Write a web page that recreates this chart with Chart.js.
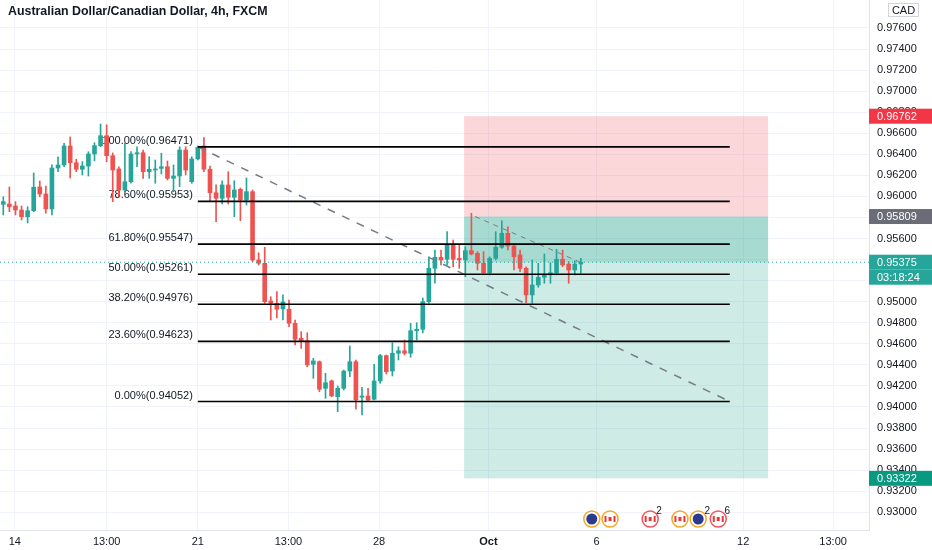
<!DOCTYPE html>
<html>
<head>
<meta charset="utf-8">
<title>AUDCAD 4h</title>
<script src="https://cdn.jsdelivr.net/npm/chart.js@4.4.0/dist/chart.umd.min.js"></script>
<style>
  html, body { margin: 0; padding: 0; background: #ffffff; }
  #wrap { width: 932px; height: 550px; position: relative; }
</style>
</head>
<body>
<div id="wrap"><canvas id="chart"></canvas></div>
<script>
// 4h candles, oldest first (index = bar number)
const opens = [
  0.95925, 0.95928, 0.95909, 0.95871, 0.95807, 0.95864, 0.96090, 0.96023, 0.95881, 0.96270,
  0.96299, 0.96479, 0.96320, 0.96258, 0.96289, 0.96403, 0.96482, 0.96577, 0.96387, 0.96261,
  0.96061, 0.96140, 0.96403, 0.96415, 0.96235, 0.96251, 0.96266, 0.96282, 0.96172, 0.96194,
  0.96441, 0.96140, 0.96356, 0.96479, 0.96258, 0.96035, 0.95982, 0.96109, 0.95992, 0.96068,
  0.95966, 0.96045, 0.95396, 0.95365, 0.95007, 0.94985, 0.94931, 0.94928, 0.94795, 0.94652,
  0.94629, 0.94405, 0.94430, 0.94177, 0.94247, 0.94097, 0.94177, 0.94341, 0.94430, 0.94092,
  0.94104, 0.94073, 0.94247, 0.94487, 0.94341, 0.94510, 0.94534, 0.94510, 0.94724, 0.94738,
  0.95000, 0.95317, 0.95422, 0.95403, 0.95538, 0.95412, 0.95396, 0.95485, 0.95459, 0.95365,
  0.95275, 0.95412, 0.95517, 0.95650, 0.95529, 0.95444, 0.95317, 0.95064, 0.95159, 0.95232,
  0.95254, 0.95275, 0.95403, 0.95358, 0.95301, 0.95358
];
const highs = [
  0.95997, 0.96090, 0.95950, 0.95909, 0.95902, 0.96223, 0.96147, 0.96099, 0.96299, 0.96377,
  0.96505, 0.96565, 0.96353, 0.96330, 0.96425, 0.96510, 0.96688, 0.96681, 0.96413, 0.96282,
  0.96505, 0.96425, 0.96472, 0.96441, 0.96377, 0.96346, 0.96410, 0.96337, 0.96299, 0.96472,
  0.96472, 0.96377, 0.96479, 0.96558, 0.96289, 0.96109, 0.96149, 0.96235, 0.96149, 0.96080,
  0.96175, 0.96061, 0.95465, 0.95517, 0.95047, 0.95095, 0.95064, 0.95016, 0.94826, 0.94715,
  0.94705, 0.94462, 0.94437, 0.94320, 0.94256, 0.94199, 0.94351, 0.94579, 0.94446, 0.94187,
  0.94177, 0.94405, 0.94500, 0.94494, 0.94610, 0.94572, 0.94636, 0.94795, 0.94800, 0.95035,
  0.95427, 0.95491, 0.95491, 0.95665, 0.95586, 0.95538, 0.95522, 0.95840, 0.95475, 0.95475,
  0.95427, 0.95665, 0.95769, 0.95712, 0.95555, 0.95491, 0.95332, 0.95396, 0.95365, 0.95453,
  0.95370, 0.95498, 0.95491, 0.95380, 0.95389, 0.95412
];
const lows = [
  0.95824, 0.95855, 0.95824, 0.95776, 0.95748, 0.95855, 0.95997, 0.95840, 0.95824, 0.96235,
  0.96282, 0.96175, 0.96235, 0.96204, 0.96194, 0.96339, 0.96472, 0.96330, 0.95950, 0.95997,
  0.96045, 0.96125, 0.96282, 0.96172, 0.96172, 0.96125, 0.96213, 0.96156, 0.96045, 0.96092,
  0.96204, 0.96125, 0.96346, 0.96235, 0.95950, 0.95760, 0.95928, 0.95928, 0.95807, 0.95769,
  0.95919, 0.95380, 0.95348, 0.94985, 0.94826, 0.94845, 0.94826, 0.94762, 0.94589, 0.94557,
  0.94382, 0.94272, 0.94145, 0.94082, 0.94097, 0.93955, 0.94161, 0.94287, 0.93978, 0.93924,
  0.94050, 0.94066, 0.94225, 0.94313, 0.94294, 0.94446, 0.94494, 0.94472, 0.94636, 0.94703,
  0.94985, 0.95175, 0.95349, 0.95349, 0.95332, 0.95317, 0.95237, 0.95444, 0.95301, 0.95270,
  0.95254, 0.95396, 0.95507, 0.95491, 0.95301, 0.95285, 0.94991, 0.94985, 0.95137, 0.95175,
  0.95175, 0.95254, 0.95332, 0.95175, 0.95254, 0.95270
];
const closes = [
  0.95950, 0.95902, 0.95871, 0.95807, 0.95864, 0.96087, 0.96023, 0.95881, 0.96270, 0.96299,
  0.96479, 0.96320, 0.96258, 0.96289, 0.96403, 0.96482, 0.96577, 0.96387, 0.96251, 0.96061,
  0.96140, 0.96403, 0.96415, 0.96235, 0.96258, 0.96261, 0.96282, 0.96172, 0.96194, 0.96441,
  0.96251, 0.96356, 0.96466, 0.96258, 0.96035, 0.95982, 0.96109, 0.95992, 0.96061, 0.95966,
  0.96045, 0.95396, 0.95365, 0.95000, 0.94985, 0.94928, 0.94997, 0.94795, 0.94643, 0.94620,
  0.94399, 0.94437, 0.94168, 0.94230, 0.94104, 0.94177, 0.94341, 0.94430, 0.94066, 0.94104,
  0.94066, 0.94247, 0.94487, 0.94335, 0.94510, 0.94534, 0.94510, 0.94724, 0.94738, 0.95000,
  0.95317, 0.95422, 0.95396, 0.95538, 0.95403, 0.95396, 0.95485, 0.95453, 0.95365, 0.95275,
  0.95412, 0.95517, 0.95650, 0.95529, 0.95427, 0.95317, 0.95064, 0.95159, 0.95232, 0.95254,
  0.95275, 0.95403, 0.95349, 0.95301, 0.95358, 0.95375
];

// time axis (bar numbers) and its labels
const tickPos = [1.9, 17.0, 32.0, 46.9, 61.8, 79.8, 97.6, 121.7, 136.5];
const tickLabels = ['14', '13:00', '21', '13:00', '28', 'Oct', '6', '12', '13:00'];

// fib retracement
const fibRatios = ['100.00%', '78.60%', '61.80%', '50.00%', '38.20%', '23.60%', '0.00%'];
const fibPrices = [0.96471, 0.95953, 0.95547, 0.95261, 0.94976, 0.94623, 0.94052];
const fibFrom = 32.0, fibTo = 119.5;

// long position tool
const posFrom = 75.8, posTo = 125.8;
const stopPrice = 0.96762, entryPrice = 0.95809, targetPrice = 0.93322;
const lastPrice = 0.95375;
const entryLine = [{ x: 77.6, y: entryPrice }, { x: 94.9, y: lastPrice }];

// economic calendar markers (bar number)
const eventBars = [96.8, 99.8, 106.4, 111.3, 114.3, 117.6];
const eventKind = ['AU', 'CA', 'CA', 'CA', 'AU', 'CA'];
const eventCount = ['', '', '2', '', '2', '6'];

const xMin = -0.543, xMax = 142.4;
const yMin = 0.92831, yMax = 0.97866;

const UP = '#26a69a', DOWN = '#ef5350';
const FONT = '"Liberation Sans", Arial, sans-serif';

const candleColor = ctx => closes[ctx.dataIndex] >= opens[ctx.dataIndex] ? UP : DOWN;

const fibSets = fibPrices.map(p => ({
  type: 'line',
  data: [{ x: fibFrom, y: p }, { x: fibTo, y: p }],
  borderColor: '#000000',
  borderWidth: 1.6,
  pointRadius: 0,
  order: 0
}));

const tvDecor = {
  id: 'tvDecor',
  beforeDatasetsDraw(chart) {
    const { ctx, scales: { x, y } } = chart;
    const l = x.getPixelForValue(posFrom), r = x.getPixelForValue(posTo);
    const yStop = y.getPixelForValue(stopPrice), yEntry = y.getPixelForValue(entryPrice);
    const yTarget = y.getPixelForValue(targetPrice), yLast = y.getPixelForValue(lastPrice);
    ctx.save();
    ctx.fillStyle = 'rgba(242, 54, 69, 0.2)';
    ctx.fillRect(l, yStop, r - l, yEntry - yStop);
    ctx.fillStyle = 'rgba(8, 153, 129, 0.2)';
    ctx.fillRect(l, yEntry, r - l, yTarget - yEntry);
    ctx.fillRect(l, yEntry, r - l, yLast - yEntry);

    // fib labels (sit under the candles)
    ctx.font = '11px ' + FONT;
    ctx.fillStyle = '#131722';
    ctx.textAlign = 'right';
    ctx.textBaseline = 'bottom';
    const lx = x.getPixelForValue(fibFrom) - 5;
    fibPrices.forEach((p, i) => {
      ctx.fillText(fibRatios[i] + '(' + p.toFixed(5) + ')', lx, y.getPixelForValue(p) - 0.5);
    });
    ctx.restore();
  },
  afterDraw(chart) {
    const { ctx, chartArea, scales: { x, y } } = chart;
    ctx.save();
    // title
    ctx.font = '600 12.4px ' + FONT;
    ctx.fillStyle = '#131722';
    ctx.textAlign = 'left';
    ctx.textBaseline = 'middle';
    ctx.fillText('Australian Dollar/Canadian Dollar, 4h, FXCM', 8, 12);

    // price tags on the scale
    const tags = [
      { p: stopPrice, t: stopPrice.toFixed(5), c: '#f23645', dy: 0 },
      { p: entryPrice, t: entryPrice.toFixed(5), c: '#6a6d78', dy: 0 },
      { p: lastPrice, t: lastPrice.toFixed(5), c: '#26a69a', dy: 0 },
      { p: lastPrice, t: '03:18:24', c: '#26a69a', dy: 15 },
      { p: targetPrice, t: targetPrice.toFixed(5), c: '#089981', dy: 0 }
    ];
    ctx.font = '11px ' + FONT;
    tags.forEach(g => {
      const py = y.getPixelForValue(g.p) + g.dy;
      ctx.fillStyle = g.c;
      ctx.fillRect(chartArea.right, py - 7.5, 63, 15);
      ctx.fillStyle = '#ffffff';
      ctx.fillText(g.t, chartArea.right + 8, py + 0.5);
    });

    // currency box
    ctx.fillStyle = '#ffffff';
    ctx.strokeStyle = '#d1d4dc';
    ctx.lineWidth = 1;
    ctx.fillRect(888.5, 3.5, 30, 13);
    ctx.strokeRect(888.5, 3.5, 30, 13);
    ctx.fillStyle = '#131722';
    ctx.textAlign = 'center';
    ctx.fillText('CAD', 903.5, 10.5);

    // calendar markers
    eventBars.forEach((b, i) => {
      const cx = x.getPixelForValue(b), cy = 519;
      const au = eventKind[i] === 'AU';
      ctx.beginPath();
      ctx.arc(cx, cy, 8, 0, Math.PI * 2);
      ctx.fillStyle = '#ffffff';
      ctx.fill();
      ctx.lineWidth = 1.5;
      ctx.strokeStyle = (i === 2 || i === 5) ? '#f7525f' : '#f6a623';
      ctx.stroke();
      ctx.beginPath();
      ctx.arc(cx, cy, 5.5, 0, Math.PI * 2);
      ctx.fillStyle = au ? '#2b3a8f' : '#ffffff';
      ctx.fill();
      if (!au) {
        ctx.fillStyle = '#e53935';
        ctx.fillRect(cx - 5.5, cy - 3, 2, 6);
        ctx.fillRect(cx + 3.5, cy - 3, 2, 6);
        ctx.fillRect(cx - 1.5, cy - 2, 3, 4);
      }
      if (eventCount[i]) {
        ctx.font = '10px ' + FONT;
        ctx.fillStyle = '#131722';
        ctx.textAlign = 'center';
        ctx.fillText(eventCount[i], cx + 9, cy - 8);
      }
    });
    ctx.restore();
  }
};

new Chart(document.getElementById('chart'), {
  type: 'bar',
  data: {
    datasets: [
      ...fibSets,
      {
        type: 'line',
        data: [{ x: fibFrom, y: fibPrices[0] }, { x: fibTo, y: fibPrices[6] }],
        borderColor: '#787b86',
        borderWidth: 1.5,
        borderDash: [8, 8],
        pointRadius: 0,
        order: 0
      },
      {
        type: 'line',
        data: entryLine,
        borderColor: '#787b86',
        borderWidth: 1,
        borderDash: [5, 5],
        pointRadius: 0,
        order: 0
      },
      {
        type: 'line',
        data: [{ x: xMin, y: lastPrice }, { x: xMax, y: lastPrice }],
        borderColor: '#26a69a',
        borderWidth: 1,
        borderDash: [1, 3],
        pointRadius: 0,
        order: 1
      },
      {
        label: 'wick',
        data: highs.map((h, i) => ({ x: i, y: [lows[i], h] })),
        backgroundColor: candleColor,
        barThickness: 1,
        minBarLength: 1,
        grouped: false,
        order: 3
      },
      {
        label: 'body',
        data: closes.map((c, i) => ({ x: i, y: [opens[i], c] })),
        backgroundColor: candleColor,
        barThickness: 4,
        minBarLength: 1,
        grouped: false,
        order: 2
      }
    ]
  },
  options: {
    responsive: true,
    maintainAspectRatio: false,
    animation: false,
    layout: { padding: 0 },
    plugins: {
      legend: { display: false },
      tooltip: { enabled: false }
    },
    scales: {
      x: {
        type: 'linear',
        position: 'bottom',
        min: xMin,
        max: xMax,
        offset: false,
        grid: { color: '#f0f3fa', drawTicks: false, offset: false },
        border: { color: '#e0e3eb' },
        ticks: {
          padding: 5,
          autoSkip: false,
          maxRotation: 0,
          color: '#131722',
          font: c => ({ size: 11, family: FONT, weight: tickLabels[c.index] === 'Oct' ? 'bold' : 'normal' }),
          callback: (v, i) => tickLabels[i]
        },
        afterBuildTicks: s => { s.ticks = tickPos.map(v => ({ value: v })); },
        afterFit: s => { s.height = 20; s.paddingLeft = 0; s.paddingRight = 0; }
      },
      y: {
        type: 'linear',
        position: 'right',
        min: yMin,
        max: yMax,
        grid: { color: '#f0f3fa', drawTicks: false },
        border: { color: '#e0e3eb' },
        ticks: {
          stepSize: 0.002,
          padding: 8,
          color: '#131722',
          font: { size: 11, family: FONT },
          callback: v => v.toFixed(5)
        },
        afterBuildTicks: s => {
          s.ticks = s.ticks.filter(t => Math.abs(t.value / 0.002 - Math.round(t.value / 0.002)) < 1e-6);
        },
        afterFit: s => { s.width = 63; s.paddingTop = 0; s.paddingBottom = 0; }
      }
    }
  },
  plugins: [tvDecor]
});
</script>
</body>
</html>
